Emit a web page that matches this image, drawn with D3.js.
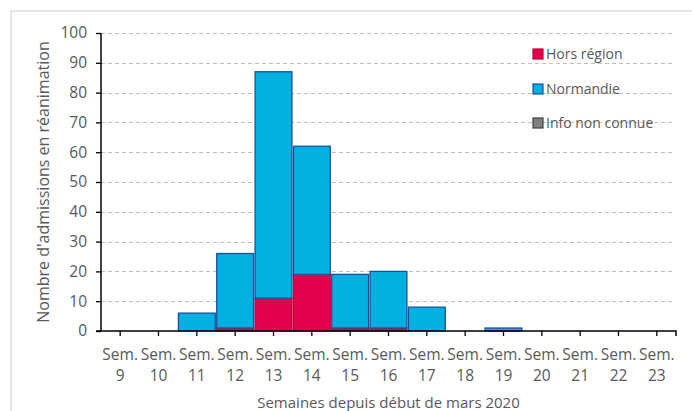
<!DOCTYPE html>
<html><head><meta charset="utf-8">
<script src="https://cdn.jsdelivr.net/npm/d3@7"></script>
<style>
html,body{margin:0;padding:0;background:#fff;}
svg{display:block;font-family:"Open Sans", Lato, sans-serif;}
</style></head>
<body>
<svg id="chart" width="692" height="411"></svg>
<script>
const weeks = ["9","10","11","12","13","14","15","16","17","18","19","20","21","22","23"];
const horsRegion = [0,0,0,1,11,19,1,1,0,0,0,0,0,0,0];
const normandie  = [0,0,6,25,76,43,18,19,8,0,1,0,0,0,0];
const infoNonConnue = [0,0,0,0,0,0,0,0,0,0,0,0,0,0,0];
const yTicks = [0,10,20,30,40,50,60,70,80,90,100];
const seriesNames = ["Hors région","Normandie","Info non connue"];

const svg = d3.select("#chart");
const W = 692, H = 411;
const m = {left:101, right:676, top:33, bottom:331};
const FONT = "Open Sans";

// outer frame
svg.append("rect").attr("x",11).attr("y",11).attr("width",W+5-11).attr("height",H+10)
  .attr("fill","#fff").attr("stroke","#d9d9d9").attr("stroke-width",1.3);

const x = d3.scaleBand().domain(weeks).range([m.left,m.right]).padding(0);
const y = d3.scaleLinear().domain([0,100]).range([m.bottom,m.top]);

// gridlines
svg.append("g").selectAll("line").data(yTicks.filter(d=>d>0)).join("line")
  .attr("x1",m.left).attr("x2",m.right-1)
  .attr("y1",d=>Math.round(y(d))+0.5).attr("y2",d=>Math.round(y(d))+0.5)
  .attr("stroke","#bfbfbf").attr("stroke-width",1).attr("stroke-dasharray","4,3");

const table = weeks.map((w,i)=>({week:w, hors:horsRegion[i], norm:normandie[i], info:infoNonConnue[i]}));
const keys = ["hors","norm","info"];
const fills = {hors:"#e5004f", norm:"#00b0e0", info:"#7f7f7f"};
const strokes = {hors:"#c00030", norm:"#1f4e9a", info:"#404040"};
const stacked = d3.stack().keys(keys)(table);

stacked.forEach(s=>{
  svg.append("g").selectAll("rect").data(s.filter(d=>d[1]-d[0]>0)).join("rect")
    .attr("x",d=>x(d.data.week)+0.75)
    .attr("width",x.bandwidth()-1.5)
    .attr("y",d=>y(d[1]))
    .attr("height",d=>y(d[0])-y(d[1]))
    .attr("fill",fills[s.key]).attr("stroke",strokes[s.key]).attr("stroke-width",1.3);
});

// y axis
const yAxis = d3.axisLeft(y).tickValues(yTicks).tickSize(5).tickPadding(9);
const gy = svg.append("g").attr("transform",`translate(${m.left},0)`).call(yAxis);
gy.select(".domain").attr("stroke","#000").attr("stroke-width",1.5).attr("d",`M0,${m.top}V${m.bottom}`);
gy.selectAll(".tick line").attr("stroke","#000").attr("stroke-width",1.3);
gy.selectAll(".tick text").attr("fill","#595959").attr("font-size",15.5).attr("font-family",FONT);

// x axis
const xAxis = d3.axisBottom(x).tickSize(5).tickFormat(()=>"");
const gx = svg.append("g").attr("transform",`translate(0,${m.bottom})`).call(xAxis);
gx.select(".domain").attr("stroke","#000").attr("stroke-width",1.5).attr("d",`M${m.left-5},0H${m.right}V5`);
gx.selectAll(".tick line").attr("stroke","#000").attr("stroke-width",1.3);
gx.selectAll(".tick").each(function(d){
  const t = d3.select(this).append("text").attr("fill","#595959").attr("font-size",15.5)
    .attr("text-anchor","middle").attr("font-family",FONT);
  t.append("tspan").attr("x",0).attr("y",29).text("Sem.");
  t.append("tspan").attr("x",0).attr("y",50).text(d);
});

// axis titles
svg.append("text").attr("x",(m.left+m.right)/2).attr("y",408)
  .attr("text-anchor","middle").attr("fill","#595959").attr("font-size",15)
  .text("Semaines depuis début de mars 2020");
svg.append("text").attr("transform",`translate(49,${(m.top+m.bottom)/2}) rotate(-90)`)
  .attr("text-anchor","middle").attr("fill","#595959").attr("font-size",16)
  .text("Nombre d'admissions en réanimation");

// legend
const legendY = [54,89,123];
const lg = svg.append("g");
keys.forEach((k,i)=>{
  lg.append("rect").attr("x",533).attr("y",legendY[i]-5).attr("width",10).attr("height",10)
    .attr("fill",fills[k]).attr("stroke",strokes[k]).attr("stroke-width",1.2);
  lg.append("text").attr("x",546).attr("y",legendY[i]+5).attr("fill","#595959")
    .attr("font-size",14).text(seriesNames[i]);
});
</script>
</body></html>
